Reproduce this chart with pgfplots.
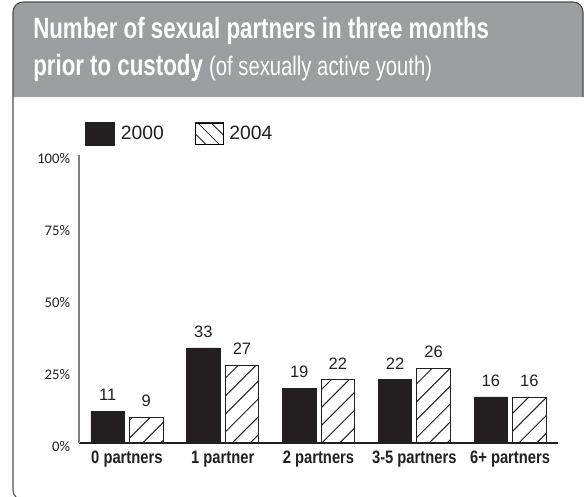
\documentclass[border=0pt]{standalone}
\usepackage{fontspec}
\setmainfont{Liberation Sans}
\newfontfamily\narrowfont[FakeStretch=0.82]{Liberation Sans}
\newfontfamily\titlefont[FakeStretch=0.76]{Liberation Sans}
\newfontfamily\tickfont{Carlito}
\usepackage{pgfplots}
\pgfplotsset{compat=1.18}
\usetikzlibrary{patterns.meta}

\definecolor{hdrgray}{HTML}{9C9EA1}
\definecolor{ink}{HTML}{231F20}
\definecolor{framecol}{HTML}{4D4D4F}
\definecolor{axisgray}{HTML}{808080}

\begin{document}
\begin{tikzpicture}
% frame and header (1 unit = 1 px of the reference)
\begin{scope}[x=0.75pt,y=-0.75pt]
\useasboundingbox (0,0) rectangle (584,496);
\fill[hdrgray] (13,97) [rounded corners=7.5pt] -- (13,2) -- (583,2) [sharp corners] -- (583,97) -- cycle;
\draw[framecol, line width=0.8pt, rounded corners=7.5pt] (583,97) -- (583,2) -- (13,2) -- (13,500) -- (60,500);
\node[anchor=base west, inner sep=0pt, text=white, font=\titlefont\bfseries\fontsize{22}{26}\selectfont]
  at (33,38) {Number of sexual partners in three months};
\node[anchor=base west, inner sep=0pt, text=white, font=\titlefont\fontsize{22}{26}\selectfont]
  at (33,75) {\bfseries prior to custody \mdseries\fontsize{20}{24}\selectfont(of sexually active youth)};
\end{scope}

\begin{axis}[
    at={(59.25pt,-332.25pt)}, anchor=south west,
    scale only axis,
    width=359.25pt, height=216pt,
    ybar, bar width=25.1pt,
    xmin=-0.5, xmax=4.5, ymin=0, ymax=100,
    axis lines*=left,
    x axis line style={ink, line width=1.5pt},
    y axis line style={axisgray, line width=0.8pt},
    major tick length=0pt,
    xtick={0,1,2,3,4},
    xticklabels={0 partners,1 partner,2 partners,3-5 partners,6+ partners},
    xticklabel style={font=\narrowfont\bfseries\fontsize{13.5}{15}\selectfont, text=ink, anchor=north, inner sep=0pt, yshift=-6pt},
    ytick={0,25,50,75,100},
    yticklabels={0\%,25\%,50\%,75\%,100\%},
    yticklabel style={font=\tickfont\fontsize{11}{12}\selectfont, text=ink, anchor=east, inner sep=0pt, xshift=-6.5pt, yshift=-2.5pt},
    clip=false,
    nodes near coords,
    /pgf/number format/assume math mode=true,
    every node near coord/.append style={font=\fontsize{12.4}{14}\selectfont, text=ink, anchor=south, inner sep=0pt, yshift=7.5pt},
    legend style={at={(rel axis cs:0.004,1.125)}, anchor=north west, draw=none, fill=none,
        font=\fontsize{14.5}{16}\selectfont, text=ink, legend columns=2,
        nodes={inner sep=0pt, anchor=west},
        /tikz/every odd column/.append style={column sep=4.5pt},
        /tikz/every even column/.append style={column sep=23pt}},
]
% 2000
\addplot[fill=ink, draw=ink, line width=0.6pt, bar shift=-14.45pt,
    legend image code/.code={\fill[ink] (0pt,-8.6pt) rectangle (21.75pt,8.6pt);}]
    coordinates {(0,11) (1,33) (2,19) (3,22) (4,16)};
% 2004
\addplot[draw=ink, line width=0.6pt, forget plot, bar shift=14.45pt,
    pattern={Lines[angle=45,distance=9.5pt,line width=0.75pt]}, pattern color=ink]
    coordinates {(0,9) (1,27) (2,22) (3,26) (4,16)};
\addlegendimage{legend image code/.code={
      \draw[ink, line width=0.6pt] (0pt,-8.2pt) rectangle (21pt,8.2pt);
      \begin{scope}
        \clip (0pt,-8.2pt) rectangle (21pt,8.2pt);
        \draw[ink, line width=0.6pt] (2pt,8.2pt) -- (19pt,-8.8pt);
        \draw[ink, line width=0.6pt] (12pt,8.2pt) -- (29pt,-8.8pt);
        \draw[ink, line width=0.6pt] (-8pt,8.2pt) -- (9pt,-8.8pt);
      \end{scope}}}
\legend{2000,2004}
\end{axis}
\end{tikzpicture}
\end{document}
